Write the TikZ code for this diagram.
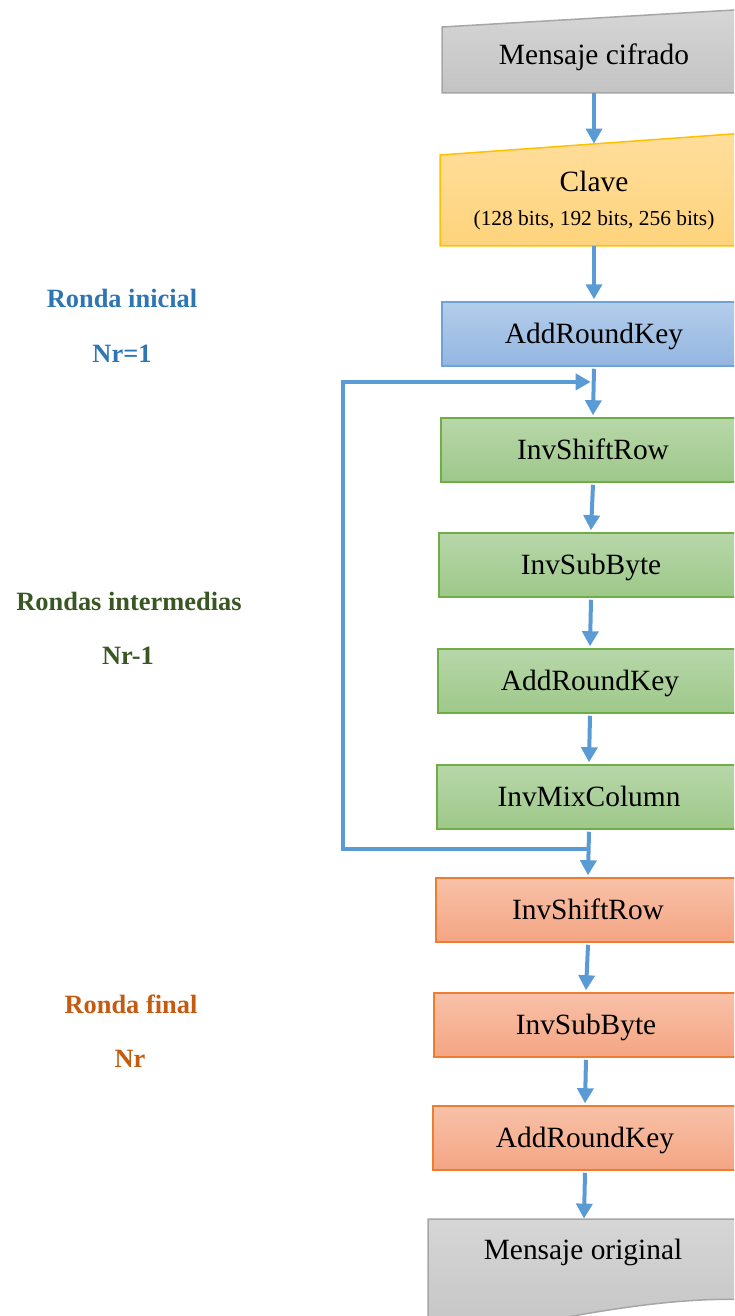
\documentclass[tikz,border=0pt]{standalone}
\usepackage{fontspec}
\setmainfont{Liberation Serif}
\usetikzlibrary{arrows.meta,calc}

\definecolor{flowblue}{HTML}{5B9BD5}
\definecolor{grayline}{HTML}{A6A6A6}
\definecolor{graytop}{HTML}{D6D6D6}
\definecolor{graybot}{HTML}{C3C3C3}
\definecolor{keyline}{HTML}{FFC000}
\definecolor{keytop}{HTML}{FFDE9C}
\definecolor{keybot}{HTML}{FED37C}
\definecolor{blueline}{HTML}{6FA3D8}
\definecolor{bluetop}{HTML}{B4CDEB}
\definecolor{bluebot}{HTML}{93B6E0}
\definecolor{greenline}{HTML}{70AD47}
\definecolor{greentop}{HTML}{B7D7A9}
\definecolor{greenbot}{HTML}{9EC88A}
\definecolor{orangeline}{HTML}{ED7D31}
\definecolor{orangetop}{HTML}{F8C1A8}
\definecolor{orangebot}{HTML}{F4A583}
\definecolor{lblblue}{HTML}{2E75B6}
\definecolor{lblgreen}{HTML}{385723}
\definecolor{lblorange}{HTML}{C55A11}

\begin{document}
\begin{tikzpicture}[x=0.5pt,y=-0.5pt,
  txt/.style={font=\fontsize{14.7}{17}\selectfont, inner sep=0pt},
  stage/.style={txt, text height=12pt, text depth=3pt,
    minimum width=152pt, minimum height=32pt, line width=0.75pt},
  initstage/.style={stage, draw=blueline, top color=bluetop, bottom color=bluebot},
  midstage/.style={stage, draw=greenline, top color=greentop, bottom color=greenbot},
  finstage/.style={stage, draw=orangeline, top color=orangetop, bottom color=orangebot},
  anchorbox/.style={inner sep=0pt, minimum width=152pt},
  flow/.style={draw=flowblue, line width=2pt, -{Triangle[width=8pt,length=7.5pt]}},
  roundlbl/.style={font=\fontsize{13.2}{15}\selectfont\bfseries, inner sep=0pt}]

\clip (0,0) rectangle (734,1316);

% ciphertext input (manual input shape)
\draw[draw=grayline, line width=0.75pt, top color=graytop, bottom color=graybot]
  (442,93) -- (760,93) -- (760,8.5) -- (442,27) -- cycle;
\node[anchorbox, minimum height=38pt] (mc) at (594,55) {};
\node[txt] (mctxt) at (594,57) {Mensaje cifrado};

% key input (manual input shape)
\draw[draw=keyline, line width=0.75pt, top color=keytop, bottom color=keybot]
  (440,246) -- (760,246) -- (760,132) -- (440,155) -- cycle;
\node[anchorbox, minimum height=51pt] (clave) at (594,195) {};
\node[txt, align=center] (clavetxt) at (594,201)
  {Clave\\{\fontsize{10.7}{12}\selectfont (128 bits, 192 bits, 256 bits)}};

% initial round
\node[initstage] (ark0) at (594,334) {AddRoundKey};

% intermediate rounds
\node[midstage] (isr1) at (593,450) {InvShiftRow};
\node[midstage] (isb1) at (591,565) {InvSubByte};
\node[midstage] (ark1) at (590,681) {AddRoundKey};
\node[midstage] (imc)  at (589,797) {InvMixColumn};

% final round
\node[finstage] (isr2) at (588,910)  {InvShiftRow};
\node[finstage] (isb2) at (586,1025) {InvSubByte};
\node[finstage] (ark2) at (585,1138) {AddRoundKey};

% plaintext output (document shape)
\draw[draw=grayline, line width=0.75pt, top color=graytop, bottom color=graybot]
  (428,1219) -- (760,1219) -- (760,1300)
  .. controls (680,1296) and (600,1308) .. (428,1345) -- cycle;
\node[anchorbox, minimum height=30pt] (mo) at (584,1249) {};
\node[txt] (motxt) at (583,1252) {Mensaje original};

% round labels
\node[roundlbl, text=lblblue]   (l1a) at (122,298)  {Ronda inicial};
\node[roundlbl, text=lblblue]   (l1b) at (122,354)  {Nr=1};
\node[roundlbl, text=lblgreen]  (l2a) at (129,601)  {Rondas intermedias};
\node[roundlbl, text=lblgreen]  (l2b) at (128,656)  {Nr-1};
\node[roundlbl, text=lblorange] (l3a) at (131,1004) {Ronda final};
\node[roundlbl, text=lblorange] (l3b) at (130,1059) {Nr};

% data flow
\draw[flow] (mc.south)   -- (clave.north);
\draw[flow] (clave.south) -- ([yshift=1pt]ark0.north);
\draw[flow] ([yshift=-1pt]ark0.south) -- ([yshift=1pt]isr1.north);
\draw[flow] ([yshift=-1pt]isr1.south) -- ([yshift=1pt]isb1.north);
\draw[flow] ([yshift=-1pt]isb1.south) -- ([yshift=1pt]ark1.north);
\draw[flow] ([yshift=-1pt]ark1.south) -- ([yshift=1pt]imc.north);
\draw[flow] ([yshift=-1pt]imc.south)  -- ([yshift=1pt]isr2.north);
\draw[flow] ([yshift=-1pt]isr2.south) -- ([yshift=1pt]isb2.north);
\draw[flow] ([yshift=-1pt]isb2.south) -- ([yshift=1pt]ark2.north);
\draw[flow] ([yshift=-1pt]ark2.south) -- (mo.north);

% loop back over the intermediate rounds
\coordinate (lpA) at ($(imc.south)!0.4!(isr2.north)$);
\coordinate (lpB) at ($(ark0.south)!0.3!(isr1.north)$);
\coordinate (lpx) at (343,0);
\draw[flow, shorten >=1.5pt] ([xshift=-1pt]lpA) -- (lpA -| lpx) -- (lpB -| lpx) -- (lpB);
\end{tikzpicture}
\end{document}
